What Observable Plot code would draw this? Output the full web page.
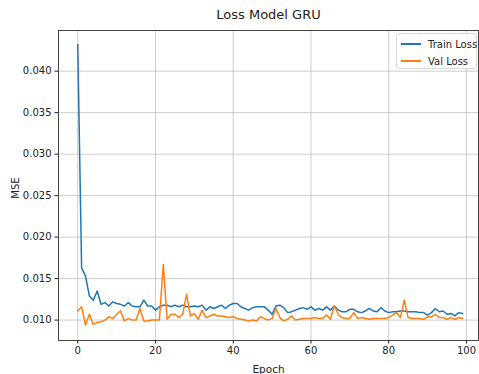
<!DOCTYPE html>
<html>
<head>
<meta charset="utf-8">
<script src="https://cdn.jsdelivr.net/npm/d3@7"></script>
<script src="https://cdn.jsdelivr.net/npm/@observablehq/plot@0.6"></script>
<style>
  html, body { margin: 0; padding: 0; background: #fff; }
  #wrap { position: relative; width: 479px; height: 374px; overflow: hidden; font-family: "DejaVu Sans", sans-serif; color: #222; }
  .title { position: absolute; top: 7px; left: 0; width: 537px; text-align: center; font-size: 13px; }
  .ylab { position: absolute; left: 15px; top: 188px; transform: translate(-50%, -50%) rotate(-90deg); font-size: 10px; }
  .xlab { position: absolute; top: 363px; left: 0; width: 537px; text-align: center; font-size: 10.5px; }
  .legend { position: absolute; left: 396px; top: 33px; width: 81px; height: 36px; border: 1px solid #d8d8d8; border-radius: 3px; background: rgba(255,255,255,0.85); font-size: 10px; white-space: nowrap; box-sizing: border-box; }
  .legend .row { position: absolute; left: 4px; height: 14px; display: flex; align-items: center; white-space: nowrap; }
  .legend .sw { width: 20px; height: 1.6px; margin-right: 7px; flex: none; }
</style>
</head>
<body>
<div id="wrap">
  <div id="chart"></div>
  <div class="title">Loss Model GRU</div>
  <div class="ylab">MSE</div>
  <div class="xlab">Epoch</div>
  <div class="legend">
    <div class="row" style="top:3px"><div class="sw" style="background:#1f77b4"></div><span>Train Loss</span></div>
    <div class="row" style="top:20px"><div class="sw" style="background:#ff7f0e"></div><span>Val Loss</span></div>
  </div>
</div>
<script>
const trainLoss = [
  0.0432, 0.0163, 0.0153, 0.0129, 0.0124, 0.0135, 0.0119, 0.0121, 0.0117, 0.0122,
  0.0120, 0.0119, 0.0117, 0.0121, 0.0117, 0.0116, 0.0116, 0.0124, 0.0117, 0.0117,
  0.0112, 0.0116, 0.0118, 0.0118, 0.0116, 0.0118, 0.0116, 0.0118, 0.0116, 0.0116,
  0.0117, 0.0116, 0.0118, 0.0112, 0.0116, 0.0114, 0.0116, 0.0118, 0.0114, 0.0118,
  0.0120, 0.0120, 0.0116, 0.0114, 0.0112, 0.0115, 0.0116, 0.0116, 0.0116, 0.0112,
  0.0107, 0.0117, 0.0118, 0.0115, 0.0109, 0.0110, 0.0112, 0.0114, 0.0115, 0.0113,
  0.0116, 0.0112, 0.0114, 0.0112, 0.0116, 0.0112, 0.0117, 0.0112, 0.0110, 0.0110,
  0.0113, 0.0113, 0.0110, 0.0109, 0.0111, 0.0114, 0.0111, 0.0110, 0.0115, 0.0111,
  0.0109, 0.0110, 0.0110, 0.0111, 0.0111, 0.0110, 0.0110, 0.0110, 0.0109, 0.0109,
  0.0106, 0.0109, 0.0114, 0.0110, 0.0111, 0.0107, 0.0108, 0.0105, 0.0109, 0.0108
];
const valLoss = [
  0.0111, 0.0116, 0.0094, 0.0107, 0.0095, 0.0097, 0.0098, 0.0100, 0.0104, 0.0102,
  0.0107, 0.0111, 0.0099, 0.0102, 0.0100, 0.0100, 0.0114, 0.0099, 0.0099, 0.0100,
  0.0100, 0.0100, 0.0167, 0.0101, 0.0107, 0.0107, 0.0103, 0.0107, 0.0131, 0.0105,
  0.0108, 0.0101, 0.0112, 0.0103, 0.0105, 0.0107, 0.0105, 0.0105, 0.0104, 0.0103,
  0.0104, 0.0102, 0.0101, 0.0100, 0.0099, 0.0100, 0.0099, 0.0104, 0.0102, 0.0100,
  0.0102, 0.0114, 0.0103, 0.0099, 0.0101, 0.0105, 0.0100, 0.0101, 0.0102, 0.0102,
  0.0102, 0.0103, 0.0102, 0.0102, 0.0106, 0.0101, 0.0117, 0.0107, 0.0103, 0.0102,
  0.0102, 0.0109, 0.0102, 0.0103, 0.0102, 0.0101, 0.0102, 0.0102, 0.0102, 0.0102,
  0.0103, 0.0106, 0.0109, 0.0103, 0.0124, 0.0103, 0.0102, 0.0102, 0.0102, 0.0101,
  0.0104, 0.0104, 0.0107, 0.0103, 0.0103, 0.0101, 0.0103, 0.0101, 0.0103, 0.0102
];
const xTicks = [0, 20, 40, 60, 80, 100];
const yTicks = [0.010, 0.015, 0.020, 0.025, 0.030, 0.035, 0.040];
const seriesNames = ["Train Loss", "Val Loss"];
const seriesColors = ["#1f77b4", "#ff7f0e"];

const rows = [];
trainLoss.forEach((v, i) => rows.push({epoch: i, mse: v, series: seriesNames[0]}));
valLoss.forEach((v, i) => rows.push({epoch: i, mse: v, series: seriesNames[1]}));

const chart = Plot.plot({
  width: 479,
  height: 374,
  marginLeft: 58,
  marginRight: 1,
  marginTop: 30,
  marginBottom: 34,
  style: {fontFamily: "DejaVu Sans, sans-serif", fontSize: "10px", color: "#222", background: "#fff"},
  x: {domain: [-4.95, 103.1], ticks: xTicks, tickSize: 3.5, tickPadding: 3, label: null},
  y: {domain: [0.00754, 0.0449], ticks: yTicks, tickFormat: d3.format(".3f"), tickSize: 3.5, tickPadding: 3.5, label: null},
  color: {domain: seriesNames, range: seriesColors},
  marks: [
    Plot.gridX(xTicks, {stroke: "#b0b0b0", strokeOpacity: 0.8, strokeWidth: 0.8}),
    Plot.gridY(yTicks, {stroke: "#b0b0b0", strokeOpacity: 0.8, strokeWidth: 0.8}),
    Plot.line(rows, {x: "epoch", y: "mse", z: "series", stroke: "series", strokeWidth: 1.5}),
    Plot.frame({stroke: "#333", strokeWidth: 0.9})
  ]
});
document.getElementById("chart").appendChild(chart);
</script>
</body>
</html>
